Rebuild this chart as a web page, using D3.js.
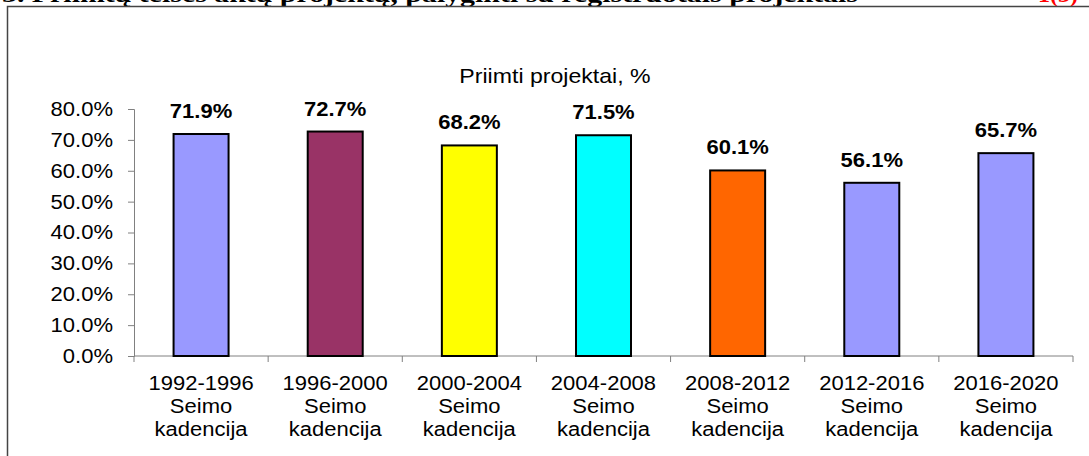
<!DOCTYPE html>
<html><head><meta charset="utf-8">
<script src="https://cdn.jsdelivr.net/npm/d3@7"></script>
<style>
html,body{margin:0;padding:0;background:#fff;overflow:hidden}
svg{display:block;font-family:Arial,"Liberation Sans",sans-serif}
</style></head>
<body><svg id="c" width="1089" height="456"></svg>
<script>
const categories = ["1992-1996","1996-2000","2000-2004","2004-2008","2008-2012","2012-2016","2016-2020"];
const categoryLine2 = "Seimo";
const categoryLine3 = "kadencija";
const values = [0.719, 0.727, 0.682, 0.715, 0.601, 0.561, 0.657];
const colors = ["#9999FF","#993366","#FFFF00","#00FFFF","#FF6600","#9999FF","#9999FF"];
const yTicks = [0,0.1,0.2,0.3,0.4,0.5,0.6,0.7,0.8];
const chartTitle = "Priimti projektai, %";
const headerText = "3. Priimtų teisės aktų projektų, palyginti su registruotais projektais";
const headerRight = "1(3)";

const svg = d3.select("#c");
const stretch = 1.1;

// header (mostly clipped at the top)
svg.append("text").attr("x",2).attr("y",2)
  .attr("font-family","'Liberation Serif',serif").attr("font-weight","bold")
  .attr("font-size",24).attr("fill","#000")
  .attr("textLength",856).attr("lengthAdjust","spacingAndGlyphs").text(headerText);
svg.append("text").attr("x",1078).attr("y",2).attr("text-anchor","end")
  .attr("font-family","'Liberation Serif',serif").attr("font-weight","bold")
  .attr("font-size",24).attr("fill","#ff0000").text(headerRight);

// chart border
svg.append("path").attr("d","M7.5,456 V6.5 H1089")
  .attr("fill","none").attr("stroke","#444").attr("stroke-width",1.5);

const x = d3.scaleBand().domain(categories).range([134,1073])
  .paddingInner(0.59).paddingOuter(0.295);
const y = d3.scaleLinear().domain([0,0.8]).range([356,109]);

// title
svg.append("text").attr("class","s").attr("x",555).attr("y",83)
  .attr("text-anchor","middle").attr("font-size",21).attr("fill","#000").text(chartTitle);

// y axis
const yAxis = d3.axisLeft(y).tickValues(yTicks).tickFormat(d3.format(".1%"))
  .tickSize(6).tickPadding(15).tickSizeOuter(6);
const gy = svg.append("g").attr("transform","translate(134,0)").call(yAxis);
gy.select(".domain").attr("stroke","#808080");
gy.selectAll(".tick line").attr("stroke","#808080");
gy.selectAll(".tick text").attr("class","s").attr("font-size",20)
  .attr("font-family","Arial,'Liberation Sans',sans-serif").attr("fill","#000");

// x axis line
svg.append("line").attr("x1",134).attr("x2",1073).attr("y1",y(0)).attr("y2",y(0))
  .attr("stroke","#808080");
const halfGap = x.step()*x.paddingInner()/2;
const bounds = categories.map(c => x(c) - halfGap);
bounds.push(x(categories[categories.length-1]) + x.bandwidth() + halfGap);
svg.append("g").selectAll("line").data(bounds).join("line")
  .attr("x1",d=>d).attr("x2",d=>d).attr("y1",y(0)).attr("y2",y(0)+6)
  .attr("stroke","#808080");

// bars
svg.append("g").selectAll("rect").data(categories).join("rect")
  .attr("x",c=>x(c)).attr("width",x.bandwidth())
  .attr("y",(c,i)=>y(values[i])).attr("height",(c,i)=>y(0)-y(values[i]))
  .attr("fill",(c,i)=>colors[i]).attr("stroke","#000").attr("stroke-width",2);

// value labels
svg.append("g").selectAll("text").data(categories).join("text")
  .attr("class","s")
  .attr("x",c=>x(c)+x.bandwidth()/2).attr("y",(c,i)=>y(values[i])-16)
  .attr("text-anchor","middle").attr("font-size",20).attr("font-weight","bold")
  .attr("fill","#000").text((c,i)=>d3.format(".1%")(values[i]));

// category labels (three separate lines)
const lineTexts = [c=>c, c=>categoryLine2, c=>categoryLine3];
lineTexts.forEach((fn,k)=>{
  svg.append("g").selectAll("text").data(categories).join("text")
    .attr("class","s").attr("text-anchor","middle").attr("font-size",20).attr("fill","#000")
    .attr("x",c=>x(c)+x.bandwidth()/2).attr("y",390+k*23)
    .text(fn);
});

// horizontal stretch of text to match reference rendering
svg.selectAll(".s").each(function(){
  const L = this.getComputedTextLength();
  d3.select(this).attr("textLength",L*stretch).attr("lengthAdjust","spacingAndGlyphs");
});
</script></body></html>
